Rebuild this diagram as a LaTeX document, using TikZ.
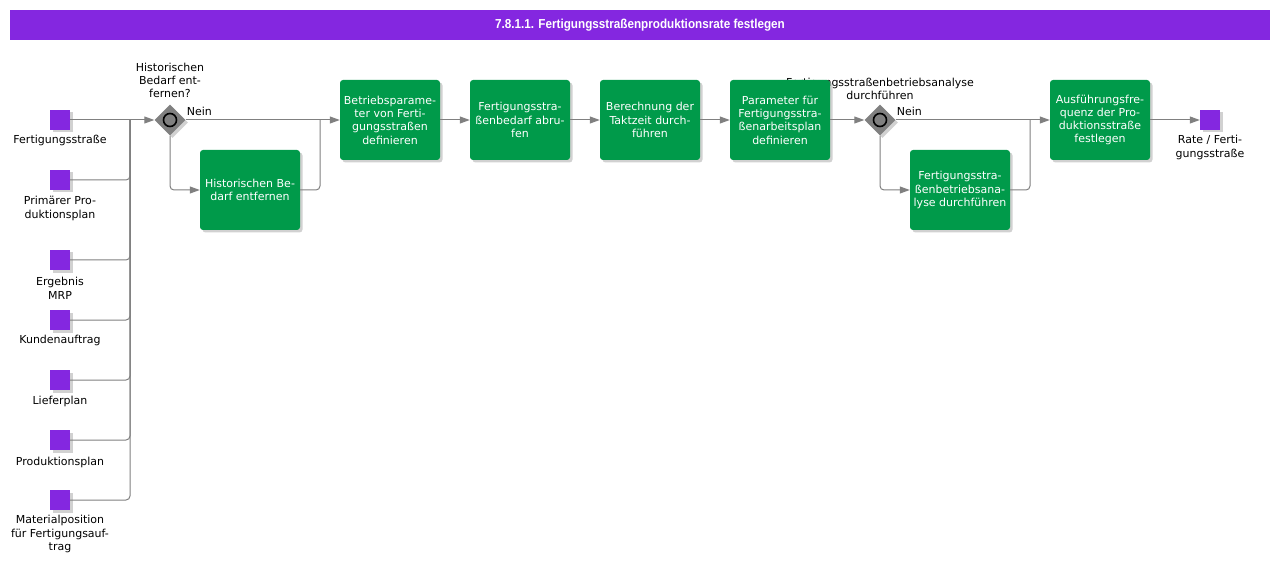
\documentclass[tikz,border=0pt]{standalone}
\usepackage{fontspec}
\setmainfont{DejaVu Sans}
\newfontfamily\titlefont[FakeStretch=0.9]{Liberation Sans}
\usetikzlibrary{shapes.geometric,arrows.meta,shadows,positioning}
\definecolor{taskgreen}{HTML}{009A4A}
\definecolor{datapurple}{HTML}{8427E0}
\definecolor{flowgray}{HTML}{808080}

\begin{document}
\begin{tikzpicture}[x=1pt, y=-1pt, font=\fontsize{11}{13.3}\selectfont,
    shade/.style={drop shadow={shadow xshift=2.5pt, shadow yshift=-2.5pt, fill=black!30, opacity=0.6}},
    task/.style={rectangle, rounded corners=3pt, fill=taskgreen, text=white,
      minimum width=100pt, minimum height=80pt, align=center, inner sep=2pt, shade},
    data/.style={rectangle, fill=datapurple, minimum size=20pt, inner sep=0pt, shade},
    datalabel/.style={align=center, inner sep=0pt},
    gateway/.style={diamond, fill=flowgray, minimum size=31pt, inner sep=0pt, shade},
    flow/.style={draw=flowgray, line width=1pt},
    arrow/.style={flow, -{Triangle[length=10pt, width=7pt]}}
  ]

    \useasboundingbox (0,0) rectangle (1280,564);

    % title bar
    \node [fill=datapurple, minimum width=1260pt, minimum height=30pt, text=white,
      font=\titlefont\bfseries\fontsize{13}{15}\selectfont] (title) at (640,25)
      {7.8.1.1. Fertigungsstraßenproduktionsrate festlegen};

    % inputs
    \node [data] (in1) at (60,120) {};
    \node [data] (in2) at (60,180) {};
    \node [data] (in3) at (60,260) {};
    \node [data] (in4) at (60,320) {};
    \node [data] (in5) at (60,380) {};
    \node [data] (in6) at (60,440) {};
    \node [data] (in7) at (60,500) {};

    \node [datalabel, below=5pt of in1] (in1l) {Fertigungsstraße};
    \node [datalabel, below=6pt of in2] (in2l) {Primärer Pro-\\duktionsplan};
    \node [datalabel, below=7pt of in3] (in3l) {Ergebnis\\MRP};
    \node [datalabel, below=5pt of in4] (in4l) {Kundenauftrag};
    \node [datalabel, below=6pt of in5] (in5l) {Lieferplan};
    \node [datalabel, below=7pt of in6] (in6l) {Produktionsplan};
    \node [datalabel, below=5pt of in7] (in7l) {Materialposition\\für Fertigungsauf-\\trag};

    % gateways
    \node [gateway] (gw1) at (170,120) {};
    \draw [line width=1.6pt, fill=flowgray] (gw1) circle (6.5);
    \node [datalabel, above=6pt of gw1] (gw1l) {Historischen\\Bedarf ent-\\fernen?};
    \node [anchor=south west, inner sep=1pt, yshift=3pt] (gw1no) at (gw1.east) {Nein};

    \node [gateway] (gw2) at (880,120) {};
    \draw [line width=1.6pt, fill=flowgray] (gw2) circle (6.5);
    \node [datalabel, above=4pt of gw2] (gw2l) {Fertigungsstraßenbetriebsanalyse\\durchführen};
    \node [anchor=south west, inner sep=1pt, yshift=3pt] (gw2no) at (gw2.east) {Nein};

    % tasks
    \node [task] (hist) at (250,190) {Historischen Be-\\darf entfernen};
    \node [task] (opparam) at (390,120) {Betriebsparame-\\ter von Ferti-\\gungsstraßen\\definieren};
    \node [task] (demand) at (520,120) {Fertigungsstra-\\ßenbedarf abru-\\fen};
    \node [task] (takt) at (650,120) {Berechnung der\\Taktzeit durch-\\führen};
    \node [task] (planparam) at (780,120) {Parameter für\\Fertigungsstra-\\ßenarbeitsplan\\definieren};
    \node [task] (analysis) at (960,190) {Fertigungsstra-\\ßenbetriebsana-\\lyse durchführen};
    \node [task] (freq) at (1100,120) {Ausführungsfre-\\quenz der Pro-\\duktionsstraße\\festlegen};

    % output
    \node [data] (rate) at (1210,120) {};
    \node [datalabel, below=5pt of rate] (ratel) {Rate / Ferti-\\gungsstraße};

    % flows
    \coordinate (bus) at (130,120);
    \coordinate (join1) at (320,120);
    \coordinate (join2) at (1030,120);

    \draw [arrow] (in1.east) -- (gw1.west);
    \foreach \i in {2,...,7}
      \draw [flow, rounded corners=4pt] (in\i.east) -| (bus);

    \draw [arrow] (gw1.east) -- (opparam.west);
    \draw [arrow, rounded corners=4pt] (gw1.south) |- (hist.west);
    \draw [flow, rounded corners=4pt] (hist.east) -| (join1);

    \draw [arrow] (opparam) -- (demand);
    \draw [arrow] (demand) -- (takt);
    \draw [arrow] (takt) -- (planparam);
    \draw [arrow] (planparam.east) -- (gw2.west);

    \draw [arrow] (gw2.east) -- (freq.west);
    \draw [arrow, rounded corners=4pt] (gw2.south) |- (analysis.west);
    \draw [flow, rounded corners=4pt] (analysis.east) -| (join2);

    \draw [arrow] (freq) -- (rate);

  \end{tikzpicture}
\end{document}
